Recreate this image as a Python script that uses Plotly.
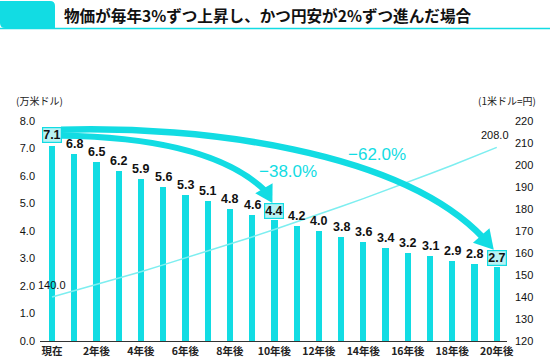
import math
import plotly.graph_objects as go

categories = ["現在", "1年後", "2年後", "3年後", "4年後", "5年後", "6年後", "7年後", "8年後", "9年後",
              "10年後", "11年後", "12年後", "13年後", "14年後", "15年後", "16年後", "17年後", "18年後",
              "19年後", "20年後"]
usd_value = [7.1, 6.8, 6.5, 6.2, 5.9, 5.6, 5.3, 5.1, 4.8, 4.6, 4.4, 4.2, 4.0, 3.8, 3.6, 3.4, 3.2, 3.1,
             2.9, 2.8, 2.7]
yen_rate = [140.0, 142.8, 145.7, 148.6, 151.5, 154.6, 157.7, 160.8, 164.0, 167.3, 170.7, 174.1, 177.5,
            181.1, 184.7, 188.4, 192.2, 196.0, 199.9, 203.9, 208.0]
highlight = [0, 10, 20]
left_ticks = [0, 1, 2, 3, 4, 5, 6, 7, 8]
right_ticks = [120, 130, 140, 150, 160, 170, 180, 190, 200, 210, 220]
title = "物価が毎年3%ずつ上昇し、かつ円安が2%ずつ進んだ場合"
pct_labels = ["−38.0%", "−62.0%"]

CYAN = "#12DCE3"
LIGHT = "#7DEEF0"
BOXFILL = "#B8F2F4"
FONT = "Liberation Sans, Noto Sans CJK JP, sans-serif"
JP = "Noto Sans CJK JP, sans-serif"

W, H = 550, 359
L, R, T, B = 40, 43, 121, 18
xs = list(range(len(categories)))
XMIN, XMAX = -0.54, 20.46
YMIN, YMAX = 0, 8
PW, PH = W - L - R, H - T - B

def px2x(px):
    return XMIN + (px - L) / PW * (XMAX - XMIN)

def py2y(py):
    return YMAX - (py - T) / PH * (YMAX - YMIN)

def x2px(x):
    return L + (x - XMIN) / (XMAX - XMIN) * PW

def y2py(y):
    return T + (YMAX - y) / (YMAX - YMIN) * PH

def ppx(px):
    return (px - L) / PW

def ppy(py):
    return (H - B - py) / PH

fig = go.Figure()
fig.add_trace(go.Bar(x=xs, y=usd_value, width=0.28, marker=dict(color=CYAN, line=dict(width=0)),
                     hoverinfo="skip"))
fig.add_trace(go.Scatter(x=xs, y=yen_rate, yaxis="y2", mode="lines",
                         line=dict(color=LIGHT, width=1.5), hoverinfo="skip"))

ann = []
for i, v in enumerate(usd_value):
    if i in highlight:
        ann.append(dict(x=xs[i], y=v, xref="x", yref="y", text=f"<b>{v:.1f}</b>", showarrow=False,
                        yanchor="bottom", yshift=3 if i == 0 else 1,
                        font=dict(family=FONT, size=12.5, color="#111"),
                        bgcolor=BOXFILL, bordercolor=CYAN, borderwidth=1.2, borderpad=0))
    else:
        ann.append(dict(x=xs[i], y=v, xref="x", yref="y", text=f"<b>{v:.1f}</b>", showarrow=False,
                        yanchor="bottom", yshift=1, font=dict(family=FONT, size=12.5, color="#111")))

# line end labels
ann.append(dict(x=xs[0], y=yen_rate[0], xref="x", yref="y2", text=f"{yen_rate[0]:.1f}", showarrow=False,
                xanchor="center", yanchor="bottom", xshift=0, yshift=4,
                font=dict(family=FONT, size=11, color="#111")))
ann.append(dict(x=xs[-1], y=yen_rate[-1], xref="x", yref="y2", text=f"{yen_rate[-1]:.1f}", showarrow=False,
                xanchor="center", yanchor="bottom", xshift=-2, yshift=4,
                font=dict(family=FONT, size=11, color="#111")))

# axis titles
ann.append(dict(x=ppx(14), y=ppy(100), xref="paper", yref="paper", text="(万米ドル)", showarrow=False,
                xanchor="left", yanchor="middle", font=dict(family=JP, size=10, color="#222")))
ann.append(dict(x=ppx(538), y=ppy(100), xref="paper", yref="paper", text="(1米ドル=円)", showarrow=False,
                xanchor="right", yanchor="middle", font=dict(family=JP, size=10, color="#222")))

# title
ann.append(dict(x=ppx(62), y=ppy(15), xref="paper", yref="paper", text="<b>" + title + "</b>",
                showarrow=False, xanchor="left", yanchor="middle",
                font=dict(family=JP, size=15.6, color="#111")))

# percent labels
ann.append(dict(x=px2x(288), y=py2y(171), xref="x", yref="y", text=pct_labels[0], showarrow=False,
                font=dict(family=FONT, size=17, color=CYAN)))
ann.append(dict(x=px2x(377), y=py2y(154), xref="x", yref="y", text=pct_labels[1], showarrow=False,
                font=dict(family=FONT, size=17, color=CYAN)))

shapes = []
# header
shapes.append(dict(type="path", xref="paper", yref="paper", line=dict(width=0), fillcolor=CYAN,
                   path=(f"M {ppx(0)} {ppy(1)} L {ppx(50)} {ppy(1)} Q {ppx(55)} {ppy(1)} {ppx(55)} {ppy(6)} "
                         f"L {ppx(55)} {ppy(28)} L {ppx(5)} {ppy(28)} Q {ppx(0)} {ppy(28)} {ppx(0)} {ppy(23)} Z")))
shapes.append(dict(type="line", xref="paper", yref="paper", x0=ppx(0), x1=ppx(W), y0=ppy(28.5), y1=ppy(28.5),
                   line=dict(color=CYAN, width=1.5)))

def P(px, py):
    return f"{px2x(px)} {py2y(py)}"

def unit(dx, dy):
    n = math.hypot(dx, dy)
    return dx / n, dy / n

def head(tx, ty, d, length, half):
    dx, dy = d
    bx, by = tx - dx * length, ty - dy * length
    px_, py_ = -dy, dx
    return (f"M {P(tx, ty)} L {P(bx + px_ * half, by + py_ * half)} "
            f"L {P(bx - px_ * half, by - py_ * half)} Z")

# arrows anchored to the highlighted labels
sx = x2px(xs[0]) + 9
sy = y2py(usd_value[0]) - 13
# long arrow -> 20 years
t2x, t2y = x2px(xs[20]) - 3, y2py(usd_value[20]) - 17
d2 = unit(0.66, 0.75)
HL2 = 19
e2x, e2y = t2x - d2[0] * (HL2 - 3), t2y - d2[1] * (HL2 - 3)
long_path = f"M {P(sx, sy - 3)} C {P(200, sy - 7)} {P(400, 150)} {P(e2x, e2y)}"
# short arrow -> 10 years
t1x, t1y = x2px(xs[10]) - 2, y2py(usd_value[10]) - 17
d1 = unit(0.5, 0.87)
HL1 = 17
e1x, e1y = t1x - d1[0] * (HL1 - 3), t1y - d1[1] * (HL1 - 3)
short_path = f"M {P(sx, sy + 3)} C {P(150, sy + 4)} {P(225, 152)} {P(e1x, e1y)}"

shapes.append(dict(type="path", xref="x", yref="y", path=long_path, line=dict(color=CYAN, width=6.5)))
shapes.append(dict(type="path", xref="x", yref="y", path=short_path, line=dict(color=CYAN, width=6)))
shapes.append(dict(type="path", xref="x", yref="y", path=head(t2x, t2y, d2, HL2, 11),
                   fillcolor=CYAN, line=dict(width=0)))
shapes.append(dict(type="path", xref="x", yref="y", path=head(t1x, t1y, d1, HL1, 10),
                   fillcolor=CYAN, line=dict(width=0)))

fig.update_layout(
    width=W, height=H, margin=dict(l=L, r=R, t=T, b=B),
    paper_bgcolor="white", plot_bgcolor="white", showlegend=False,
    font=dict(family=FONT, size=11, color="#111"),
    xaxis=dict(range=[XMIN, XMAX], tickvals=xs[::2], ticktext=[f"<b>{c}</b>" for c in categories[::2]],
               showgrid=False, zeroline=False, showline=True, linecolor="#333", linewidth=1.2,
               ticks="", automargin=False, tickfont=dict(family=JP, size=10.5, color="#222")),
    yaxis=dict(range=[YMIN, YMAX], tickvals=left_ticks, ticktext=[f"{t:.1f}" for t in left_ticks],
               showgrid=False, zeroline=False, showline=False, ticks="", automargin=False,
               ticklabelstandoff=4, tickfont=dict(family=FONT, size=11, color="#111")),
    yaxis2=dict(range=[120, 220], tickvals=right_ticks, overlaying="y", side="right",
                showgrid=False, zeroline=False, showline=False, ticks="", automargin=False,
                ticklabelstandoff=7, tickfont=dict(family=FONT, size=11, color="#111")),
    annotations=ann, shapes=shapes, bargap=0,
)
fig.write_html("out.html", config={"displayModeBar": False},
               post_script="document.body.style.margin='0';document.body.style.padding='0';"
                           "document.documentElement.style.overflow='hidden';")
